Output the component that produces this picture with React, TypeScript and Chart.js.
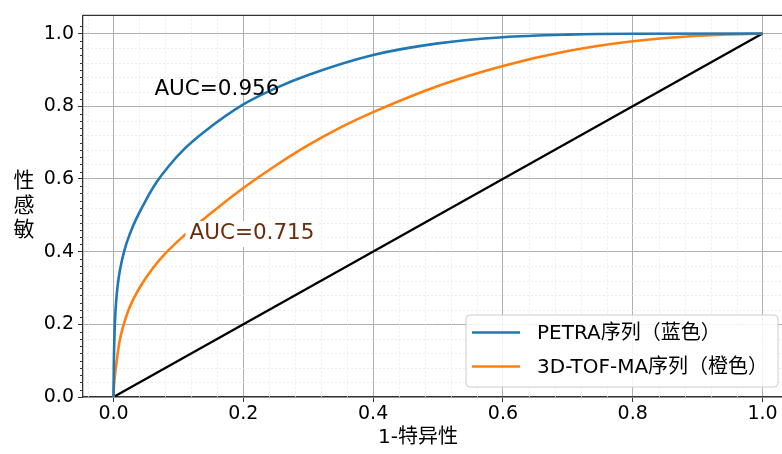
import React, { useEffect, useRef } from "react";
import { Chart, registerables } from "chart.js";

Chart.register(...registerables);

// ---- data ----
const petraFpr = [0, 0.0005, 0.0015, 0.003, 0.006, 0.01, 0.017, 0.025, 0.035, 0.05, 0.066, 0.085, 0.11, 0.14, 0.2, 0.25, 0.3, 0.4, 0.5, 0.6, 0.7, 0.8, 1.0];
const petraTpr = [0, 0.09, 0.17, 0.235, 0.3, 0.35, 0.405, 0.448, 0.49, 0.542, 0.59, 0.635, 0.684, 0.73, 0.805, 0.85, 0.886, 0.941, 0.973, 0.99, 0.997, 0.9995, 1.0];
const tofFpr = [0, 0.0005, 0.002, 0.005, 0.009, 0.0145, 0.022, 0.032, 0.043, 0.06, 0.081, 0.108, 0.133, 0.165, 0.2, 0.25, 0.3, 0.35, 0.4, 0.5, 0.6, 0.7, 0.8, 0.9, 1.0];
const tofTpr = [0, 0.022, 0.055, 0.1, 0.15, 0.192, 0.234, 0.274, 0.309, 0.353, 0.397, 0.443, 0.481, 0.527, 0.575, 0.637, 0.693, 0.742, 0.784, 0.856, 0.911, 0.952, 0.979, 0.994, 1.0];
const chanceFpr = [0, 1];
const chanceTpr = [0, 1];

const seriesNames = ["PETRA序列（蓝色）", "3D-TOF-MA序列（橙色）"];
const seriesColors = ["#1f77b4", "#ff7f0e"];
const aucTexts = ["AUC=0.956", "AUC=0.715"];
const aucAnchorX = [0.063, 0.117];
const aucAnchorY = [0.847, 0.451];
const aucColors = ["#000000", "#6a2c0c"];

const xTicks = [0, 0.2, 0.4, 0.6, 0.8, 1.0];
const yTicks = [0, 0.2, 0.4, 0.6, 0.8, 1.0];
const minorStep = 0.04;
const xLabel = "1-特异性";
const yLabelChars = ["性", "感", "敏"];

const FONT = "'DejaVu Sans', 'Noto Sans CJK SC', sans-serif";

const toPts = (xs: number[], ys: number[]) => xs.map((x, i) => ({ x, y: ys[i] }));

const decor = {
  id: "decor",
  beforeDatasetsDraw(chart: any) {
    const { ctx, chartArea: a, scales } = chart;
    const xs = scales.x, ys = scales.y;
    ctx.save();
    // minor grid
    ctx.strokeStyle = "#e8e8e8";
    ctx.lineWidth = 0.8;
    ctx.setLineDash([2, 2]);
    for (let v = -0.04; v <= 1.04; v += minorStep) {
      const r = Math.round(v * 100) / 100;
      if (Math.abs(r * 5 - Math.round(r * 5)) < 1e-6) continue;
      const px = Math.round(xs.getPixelForValue(r)) + 0.5;
      if (px > a.left && px < a.right) {
        ctx.beginPath(); ctx.moveTo(px, a.top); ctx.lineTo(px, a.bottom); ctx.stroke();
      }
      const py = Math.round(ys.getPixelForValue(r)) + 0.5;
      if (py > a.top && py < a.bottom) {
        ctx.beginPath(); ctx.moveTo(a.left, py); ctx.lineTo(a.right, py); ctx.stroke();
      }
    }
    ctx.setLineDash([]);
    // minor y tick marks
    ctx.strokeStyle = "#333";
    ctx.lineWidth = 1;
    for (let v = 0; v <= 1.04; v += minorStep / 2) {
      const r = Math.round(v * 100) / 100;
      if (Math.abs(r * 5 - Math.round(r * 5)) < 1e-6) continue;
      const py = Math.round(ys.getPixelForValue(r)) + 0.5;
      ctx.beginPath(); ctx.moveTo(a.left - 3, py); ctx.lineTo(a.left, py); ctx.stroke();
    }
    ctx.restore();
  },
  afterDatasetsDraw(chart: any) {
    const { ctx, chartArea: a, scales } = chart;
    const xs = scales.x, ys = scales.y;
    ctx.save();
    // AUC labels
    ctx.font = `21.5px ${FONT}`;
    ctx.textBaseline = "middle";
    ctx.textAlign = "left";
    aucTexts.forEach((t, i) => {
      const px = xs.getPixelForValue(aucAnchorX[i]);
      const py = ys.getPixelForValue(aucAnchorY[i]);
      if (i === 1) {
        const w = ctx.measureText(t).width;
        ctx.fillStyle = "#ffffff";
        ctx.fillRect(px - 4, py - 12, w + 8, 26);
      }
      ctx.fillStyle = aucColors[i];
      ctx.fillText(t, px, py);
    });
    // top spine
    ctx.strokeStyle = "#333";
    ctx.lineWidth = 1.3;
    ctx.beginPath(); ctx.moveTo(a.left, a.top); ctx.lineTo(a.right, a.top); ctx.stroke();
    // legend
    const lx = 466, ly = 315, lw = 312, lh = 72, rad = 4;
    ctx.beginPath();
    ctx.moveTo(lx + rad, ly);
    ctx.lineTo(lx + lw - rad, ly); ctx.quadraticCurveTo(lx + lw, ly, lx + lw, ly + rad);
    ctx.lineTo(lx + lw, ly + lh - rad); ctx.quadraticCurveTo(lx + lw, ly + lh, lx + lw - rad, ly + lh);
    ctx.lineTo(lx + rad, ly + lh); ctx.quadraticCurveTo(lx, ly + lh, lx, ly + lh - rad);
    ctx.lineTo(lx, ly + rad); ctx.quadraticCurveTo(lx, ly, lx + rad, ly);
    ctx.closePath();
    ctx.fillStyle = "rgba(255,255,255,0.85)";
    ctx.fill();
    ctx.strokeStyle = "#cccccc";
    ctx.lineWidth = 1;
    ctx.stroke();
    ctx.font = `20px ${FONT}`;
    seriesNames.forEach((n, i) => {
      const yy = ly + 17.5 + i * 34;
      ctx.strokeStyle = seriesColors[i];
      ctx.lineWidth = 2.5;
      ctx.beginPath(); ctx.moveTo(472, yy); ctx.lineTo(520, yy); ctx.stroke();
      ctx.fillStyle = "#000";
      ctx.fillText(n, 537, yy + 1);
    });
    // axis titles
    ctx.fillStyle = "#000";
    ctx.font = `20px ${FONT}`;
    ctx.textAlign = "center";
    ctx.fillText(xLabel, (xs.getPixelForValue(0) + xs.getPixelForValue(1)) / 2 - 20, 438);
    ctx.font = `21px ${FONT}`;
    yLabelChars.forEach((c, i) => ctx.fillText(c, 24, 182 + i * 24.5));
    ctx.restore();
  },
};

export default function App() {
  const ref = useRef<HTMLCanvasElement | null>(null);
  useEffect(() => {
    document.body.style.margin = "0";
    const cv = ref.current!;
    const chart = new Chart(cv, {
      type: "scatter",
      data: {
        datasets: [
          { label: seriesNames[0], data: toPts(petraFpr, petraTpr), borderColor: seriesColors[0], backgroundColor: seriesColors[0], borderWidth: 2.6, showLine: true, pointRadius: 0, cubicInterpolationMode: "monotone" } as any,
          { label: seriesNames[1], data: toPts(tofFpr, tofTpr), borderColor: seriesColors[1], backgroundColor: seriesColors[1], borderWidth: 2.6, showLine: true, pointRadius: 0, cubicInterpolationMode: "monotone" } as any,
          { label: "chance", data: toPts(chanceFpr, chanceTpr), borderColor: "#000000", borderWidth: 2.3, showLine: true, pointRadius: 0 } as any,
        ],
      },
      options: {
        animation: false,
        responsive: false,
        layout: { padding: { top: 13, right: 0, left: 0, bottom: 0 } },
        plugins: { legend: { display: false }, tooltip: { enabled: false } },
        scales: {
          x: {
            type: "linear",
            min: -0.047,
            max: 1.03,
            afterBuildTicks: (s: any) => { s.ticks = xTicks.map((v) => ({ value: v })); },
            afterFit: (s: any) => { s.height = 57; },
            grid: { color: "#b0b0b0", lineWidth: 1, tickLength: 5, tickColor: "#333" },
            border: { display: true, color: "#333", width: 1.3 },
            ticks: { color: "#000", font: { family: FONT, size: 19 }, padding: 1, maxRotation: 0, callback: (v: any) => Number(v).toFixed(1) },
          },
          y: {
            type: "linear",
            min: 0,
            max: 1.05,
            afterBuildTicks: (s: any) => { s.ticks = yTicks.map((v) => ({ value: v })); },
            afterFit: (s: any) => { s.width = 83; },
            grid: { color: "#b0b0b0", lineWidth: 1, tickLength: 5, tickColor: "#333" },
            border: { display: true, color: "#333", width: 1.3 },
            ticks: { color: "#000", font: { family: FONT, size: 19 }, padding: 4, callback: (v: any) => Number(v).toFixed(1) },
          },
        },
      },
      plugins: [decor],
    });
    return () => chart.destroy();
  }, []);
  return (
    <div style={{ width: 782, height: 454, overflow: "hidden", background: "#fff" }}>
      <canvas ref={ref} width={782} height={454} style={{ display: "block" }} />
    </div>
  );
}
